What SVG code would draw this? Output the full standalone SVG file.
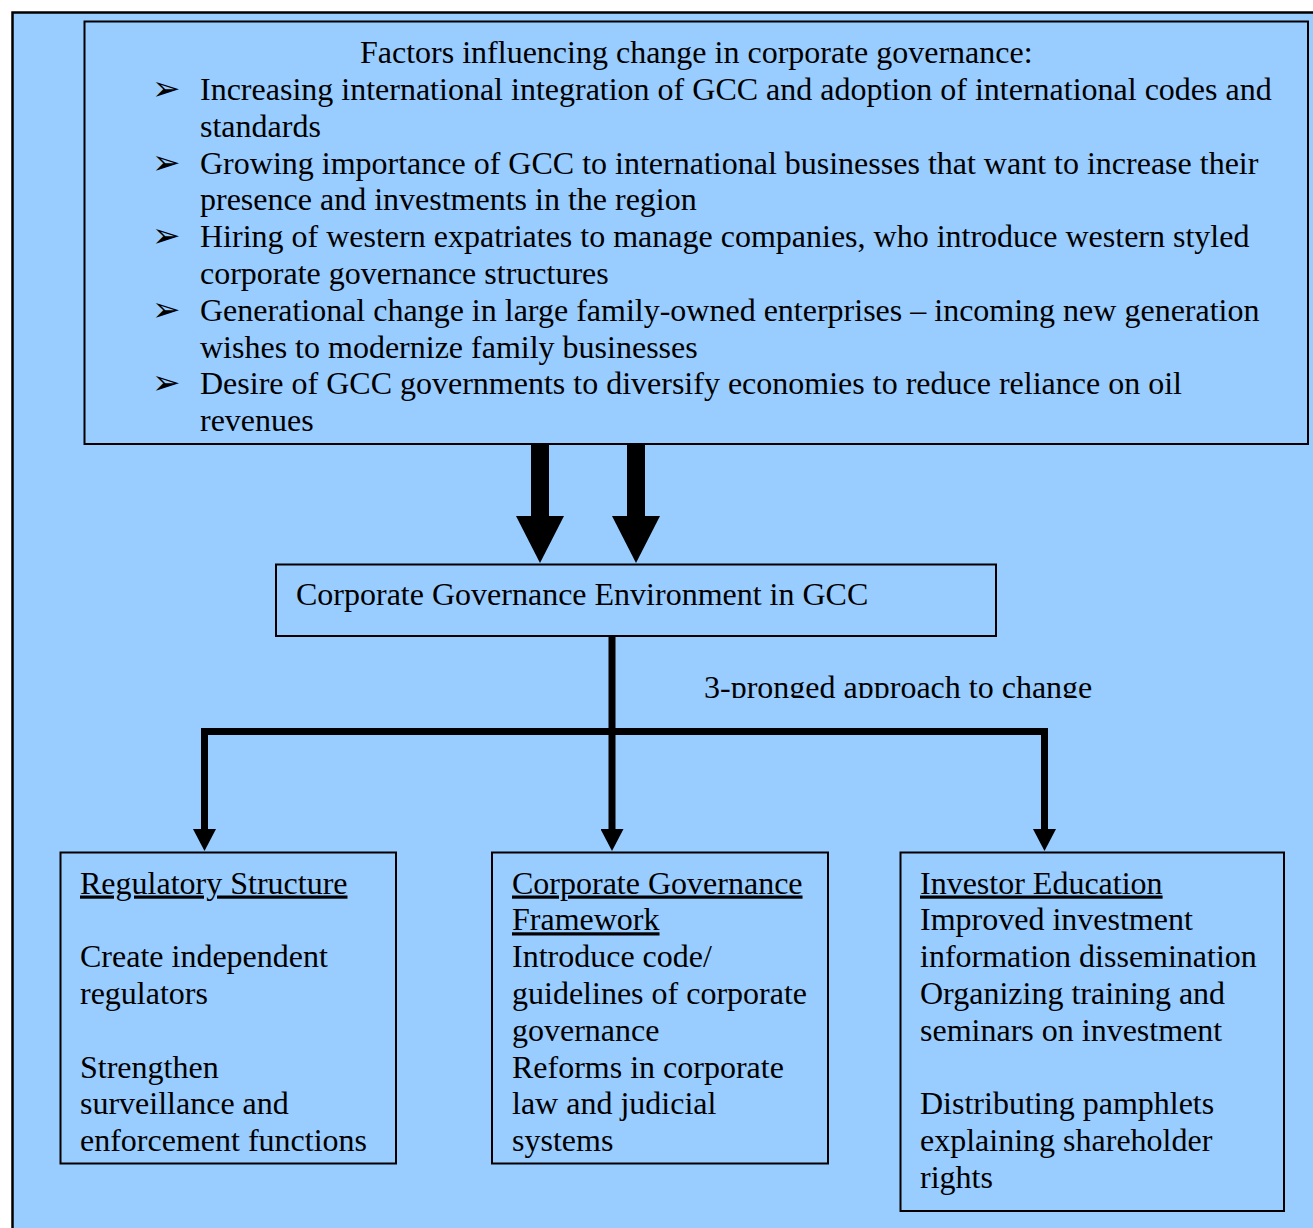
<svg xmlns="http://www.w3.org/2000/svg" width="1313" height="1228" viewBox="0 0 1313 1228">
<style>
.t{font-family:"Liberation Serif","Times New Roman",serif;font-size:32px;fill:#000}
.u{text-decoration:underline}
.b{font-family:"DejaVu Sans",sans-serif;font-size:34px;fill:#000}
.box{fill:#99CCFF;stroke:#000;stroke-width:2}
.thin{fill:none;stroke:#000;stroke-width:7}
.thick{fill:none;stroke:#000;stroke-width:18}
</style>
<defs>
<marker id="sm" markerUnits="userSpaceOnUse" viewBox="0 0 22 23" refX="0" refY="11.5" markerWidth="22" markerHeight="23" orient="auto">
<path d="M0,0 L22,11.5 L0,23 z" fill="#000"/>
</marker>
<marker id="bg" markerUnits="userSpaceOnUse" viewBox="0 0 47 48" refX="0" refY="24" markerWidth="47" markerHeight="48" orient="auto">
<path d="M0,0 L47,24 L0,48 z" fill="#000"/>
</marker>
<clipPath id="clip3"><rect x="690" y="660" width="440" height="38"/></clipPath>
</defs>
<rect x="0" y="0" width="1313" height="1228" fill="#fff"/>
<rect x="12.5" y="12.5" width="1320" height="1230" fill="#99CCFF" stroke="#000" stroke-width="2.5"/>

<g id="connectors">
<path class="thick" d="M540,444 V516" marker-end="url(#bg)"/>
<path class="thick" d="M636,444 V516" marker-end="url(#bg)"/>
<path class="thin" d="M612,636 V829" marker-end="url(#sm)"/>
<path class="thin" d="M201,731.5 H1048"/>
<path class="thin" d="M204.5,731.5 V829" marker-end="url(#sm)"/>
<path class="thin" d="M1044.5,731.5 V829" marker-end="url(#sm)"/>
<text class="t" x="704" y="697.5" clip-path="url(#clip3)">3-pronged approach to change</text>
</g>

<g id="factors">
<rect class="box" x="84.5" y="21.5" width="1223.5" height="422.5"/>
<text class="t" x="360" y="63">Factors influencing change in corporate governance:</text>
<text class="b" x="152" y="100">➢</text>
<text class="b" x="152" y="173.6">➢</text>
<text class="b" x="152" y="247.2">➢</text>
<text class="b" x="152" y="320.8">➢</text>
<text class="b" x="152" y="394.4">➢</text>
<text class="t" x="200" y="100">Increasing international integration of GCC and adoption of international codes and</text>
<text class="t" x="200" y="136.8">standards</text>
<text class="t" x="200" y="173.6">Growing importance of GCC to international businesses that want to increase their</text>
<text class="t" x="200" y="210.4">presence and investments in the region</text>
<text class="t" x="200" y="247.2">Hiring of western expatriates to manage companies, who introduce western styled</text>
<text class="t" x="200" y="284">corporate governance structures</text>
<text class="t" x="200" y="320.8">Generational change in large family-owned enterprises – incoming new generation</text>
<text class="t" x="200" y="357.6">wishes to modernize family businesses</text>
<text class="t" x="200" y="394.4">Desire of GCC governments to diversify economies to reduce reliance on oil</text>
<text class="t" x="200" y="431.2">revenues</text>
</g>

<g id="environment">
<rect class="box" x="276" y="564.5" width="720" height="71.5"/>
<text class="t" x="296" y="605">Corporate Governance Environment in GCC</text>
</g>

<g id="regulatory">
<rect class="box" x="60.5" y="852.5" width="335.5" height="311"/>
<text class="t u" x="80" y="893.5">Regulatory Structure</text>
<text class="t" x="80" y="967.1">Create independent</text>
<text class="t" x="80" y="1003.9">regulators</text>
<text class="t" x="80" y="1077.5">Strengthen</text>
<text class="t" x="80" y="1114.3">surveillance and</text>
<text class="t" x="80" y="1151.1">enforcement functions</text>
</g>

<g id="framework">
<rect class="box" x="492" y="852.5" width="336" height="311"/>
<text class="t u" x="512" y="893.5">Corporate Governance</text>
<text class="t u" x="512" y="930.3">Framework</text>
<text class="t" x="512" y="967.1">Introduce code/</text>
<text class="t" x="512" y="1003.9">guidelines of corporate</text>
<text class="t" x="512" y="1040.7">governance</text>
<text class="t" x="512" y="1077.5">Reforms in corporate</text>
<text class="t" x="512" y="1114.3">law and judicial</text>
<text class="t" x="512" y="1151.1">systems</text>
</g>

<g id="education">
<rect class="box" x="900.5" y="852.5" width="383.5" height="358.5"/>
<text class="t u" x="920" y="893.5">Investor Education</text>
<text class="t" x="920" y="930.3">Improved investment</text>
<text class="t" x="920" y="967.1">information dissemination</text>
<text class="t" x="920" y="1003.9">Organizing training and</text>
<text class="t" x="920" y="1040.7">seminars on investment</text>
<text class="t" x="920" y="1114.3">Distributing pamphlets</text>
<text class="t" x="920" y="1151.1">explaining shareholder</text>
<text class="t" x="920" y="1187.9">rights</text>
</g>
</svg>
